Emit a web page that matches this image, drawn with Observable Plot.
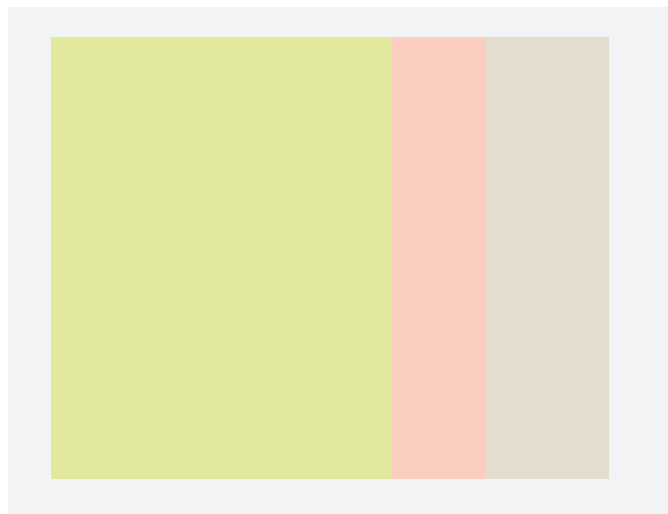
<!DOCTYPE html>
<html>
<head>
<meta charset="utf-8">
<script src="https://cdn.jsdelivr.net/npm/d3@7"></script>
<script src="https://cdn.jsdelivr.net/npm/@observablehq/plot@0.6"></script>
<style>
  html, body { margin: 0; padding: 0; background: #ffffff; }
  #chart { position: absolute; left: 8px; top: 7px; }
  svg { display: block; }
</style>
</head>
<body>
<div id="chart"></div>
<script>
const categories = ["A", "B", "C"];
const values = [55, 15, 20];
const colors = ["#e3e99c", "#fbcdbe", "#e4dccc"];

const data = categories.map((c, i) => ({cat: c, value: values[i], color: colors[i]}));

const chart = Plot.plot({
  width: 660,
  height: 507,
  marginLeft: 43,
  marginRight: 59,
  marginTop: 30,
  marginBottom: 35,
  style: {background: "#f2f3f5"},
  x: {axis: null, domain: [0, d3.sum(values)]},
  marks: [
    Plot.barX(data, Plot.stackX({x: "value", fill: "color", order: null}))
  ]
});
document.getElementById("chart").appendChild(chart);
</script>
</body>
</html>
